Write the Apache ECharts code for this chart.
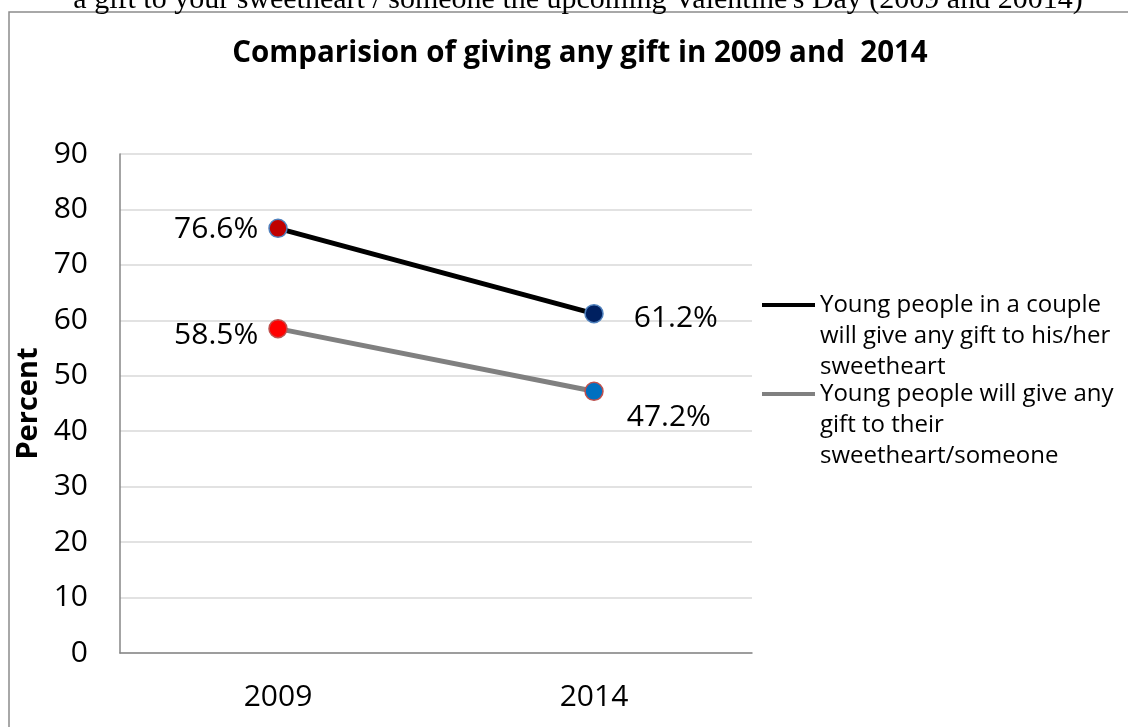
<!DOCTYPE html>
<html>
<head>
<meta charset="utf-8">
<script src="https://cdn.jsdelivr.net/npm/echarts@6/dist/echarts.min.js"></script>
<style>
html,body{margin:0;padding:0;background:#fff;}
#c{width:1128px;height:727px;}
</style>
</head>
<body>
<div id="c"></div>
<script>
const categories = ['2009', '2014'];
const coupleGift = [76.6, 61.2];
const anyGift = [58.5, 47.2];
const seriesNames = [
  'Young people in a couple will give any gift to his/her sweetheart',
  'Young people will give any gift to their sweetheart/someone'
];
const legendLines = [
  ['Young people in a couple', 'will give any gift to his/her', 'sweetheart'],
  ['Young people will give any', 'gift to their', 'sweetheart/someone']
];
const chartTitle = 'Comparision of giving any gift in 2009 and  2014';
const headerText = "a gift to your sweetheart / someone the upcoming Valentine's Day (2009 and 20014)";
const yAxisName = 'Percent';

const FONT = '"Open Sans", sans-serif';
const chart = echarts.init(document.getElementById('c'));

function lbl(pos, dist, off) {
  return { show: true, position: pos, distance: dist, offset: off,
    formatter: p => p.value.toFixed(1) + '%', color: '#000',
    fontFamily: FONT, fontSize: 30 };
}

const markers1 = [
  { color: '#c00000', borderColor: '#4f81bd' },
  { color: '#002060', borderColor: '#4f81bd' }
];
const markers2 = [
  { color: '#ff0000', borderColor: '#c0504d' },
  { color: '#0070c0', borderColor: '#c0504d' }
];
const labels1 = [lbl('left', 10, [0, 1]), lbl('right', 30, [0, 5])];
const labels2 = [lbl('left', 10, [0, 7]), lbl('right', 23, [0, 26])];

function legendFor(i, top) {
  return {
    show: true, left: 762, top: top, padding: 0, orient: 'vertical',
    icon: 'rect', itemWidth: 53, itemHeight: 4,
    data: [{ name: seriesNames[i], itemStyle: { color: i === 0 ? '#000000' : '#808080', borderWidth: 0 } }],
    formatter: () => '\n\n' + legendLines[i].join('\n'),
    textStyle: { fontFamily: FONT, fontSize: 24, lineHeight: 31, color: '#000' },
    selectedMode: false
  };
}

chart.setOption({
  animation: false,
  backgroundColor: '#fff',
  title: {
    text: chartTitle, left: 575, top: 34, textAlign: 'center',
    textStyle: { fontFamily: FONT, fontWeight: 'bold', fontSize: 29.5, color: '#000' }
  },
  graphic: [
    { type: 'rect', shape: { x: 9, y: 12, width: 1300, height: 900 },
      style: { fill: 'none', stroke: '#8c8c8c', lineWidth: 1.5 }, silent: true, z: 0 },
    { type: 'text', x: 578, y: 0, style: { text: headerText, fontFamily: '"Liberation Serif", serif',
      fontSize: 30, fill: '#000', align: 'center', verticalAlign: 'middle' }, silent: true }
  ],
  legend: [legendFor(0, 227.5), legendFor(1, 316.5)],
  grid: { left: 120, top: 154, right: 376, bottom: 74, containLabel: false },
  xAxis: {
    type: 'category', data: categories, boundaryGap: true,
    axisLine: { lineStyle: { color: '#868686', width: 1.5 } },
    axisTick: { show: false },
    axisLabel: { color: '#000', fontFamily: FONT, fontSize: 30, margin: 29 },
    splitLine: { show: false }
  },
  yAxis: {
    type: 'value', min: 0, max: 90, interval: 10,
    name: yAxisName, nameLocation: 'middle', nameGap: 68,
    nameTextStyle: { fontFamily: FONT, fontWeight: 'bold', fontSize: 29, color: '#000' },
    axisLine: { show: true, lineStyle: { color: '#868686', width: 1.5 } },
    axisTick: { show: false },
    axisLabel: { color: '#000', fontFamily: FONT, fontSize: 30, margin: 32 },
    splitLine: { lineStyle: { color: '#d9d9d9', width: 1.5 } }
  },
  series: [
    {
      name: seriesNames[0], type: 'line', symbol: 'circle', symbolSize: 18,
      lineStyle: { color: '#000000', width: 5 },
      itemStyle: { color: '#000000' },
      data: coupleGift.map((v, i) => ({ value: v,
        itemStyle: { color: markers1[i].color, borderColor: markers1[i].borderColor, borderWidth: 1.5 },
        label: labels1[i] })),
      z: 3
    },
    {
      name: seriesNames[1], type: 'line', symbol: 'circle', symbolSize: 18,
      lineStyle: { color: '#808080', width: 5 },
      itemStyle: { color: '#808080' },
      data: anyGift.map((v, i) => ({ value: v,
        itemStyle: { color: markers2[i].color, borderColor: markers2[i].borderColor, borderWidth: 1.5 },
        label: labels2[i] })),
      z: 2
    }
  ]
});
</script>
</body>
</html>
